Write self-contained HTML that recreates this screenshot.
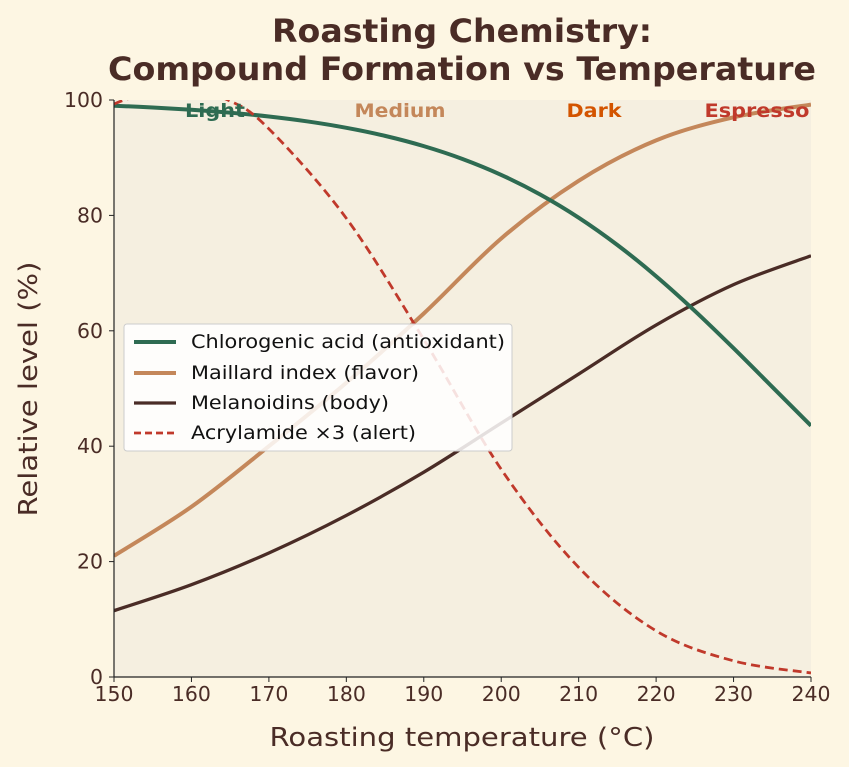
<!DOCTYPE html>
<html><head><meta charset="utf-8"><style>
body{margin:0;background:#fdf6e3;}
svg{display:block;font-family:"DejaVu Sans","Liberation Sans",sans-serif;}
</style></head><body>
<svg id="s" width="849" height="767" xmlns="http://www.w3.org/2000/svg">
<rect width="849" height="767" fill="#fdf6e3"/>
<text x="462" y="42" text-anchor="middle" font-size="32" font-weight="bold" fill="#4a2c26" textLength="380" lengthAdjust="spacingAndGlyphs">Roasting Chemistry:</text>
<text x="462" y="80" text-anchor="middle" font-size="32" font-weight="bold" fill="#4a2c26" textLength="708" lengthAdjust="spacingAndGlyphs">Compound Formation vs Temperature</text>
<rect x="114" y="100" width="697" height="577" fill="#f5efe0"/>
<defs><clipPath id="c"><rect x="114" y="100" width="697" height="577"/></clipPath></defs>
<g id="curves" clip-path="url(#c)"></g>
<text x="215" y="117" text-anchor="middle" font-size="19" font-weight="bold" fill="#2e6b52" textLength="60" lengthAdjust="spacingAndGlyphs">Light</text>
<text x="400" y="117" text-anchor="middle" font-size="19" font-weight="bold" fill="#c4875a" textLength="91" lengthAdjust="spacingAndGlyphs">Medium</text>
<text x="594" y="117" text-anchor="middle" font-size="19" font-weight="bold" fill="#d35400" textLength="55" lengthAdjust="spacingAndGlyphs">Dark</text>
<text x="757" y="117" text-anchor="middle" font-size="19" font-weight="bold" fill="#c0392b" textLength="105" lengthAdjust="spacingAndGlyphs">Espresso</text>
<line x1="114" y1="100" x2="114" y2="677" stroke="#222" stroke-width="1.2"/>
<line x1="114" y1="677" x2="811" y2="677" stroke="#222" stroke-width="1.2"/>
<g id="ticks" font-size="20" fill="#4a2c26"></g>
<text x="462" y="746" text-anchor="middle" font-size="26" fill="#4a2c26" textLength="385" lengthAdjust="spacingAndGlyphs">Roasting temperature (°C)</text>
<text transform="translate(37,389) rotate(-90)" text-anchor="middle" font-size="26" fill="#4a2c26" textLength="255" lengthAdjust="spacingAndGlyphs">Relative level (%)</text>
<rect x="124" y="324" width="388" height="127" rx="3" fill="#fff" fill-opacity="0.85" stroke="#ccc"/>
<line x1="134" y1="342" x2="176" y2="342" stroke="#2e6b52" stroke-width="4"/>
<text x="191" y="348" font-size="19" fill="#111" textLength="314" lengthAdjust="spacingAndGlyphs">Chlorogenic acid (antioxidant)</text>
<line x1="134" y1="373" x2="176" y2="373" stroke="#c4875a" stroke-width="4"/>
<text x="191" y="379" font-size="19" fill="#111" textLength="228" lengthAdjust="spacingAndGlyphs">Maillard index (flavor)</text>
<line x1="134" y1="403" x2="176" y2="403" stroke="#4a2c26" stroke-width="3.3"/>
<text x="191" y="409" font-size="19" fill="#111" textLength="198" lengthAdjust="spacingAndGlyphs">Melanoidins (body)</text>
<line x1="134" y1="433" x2="176" y2="433" stroke="#c0392b" stroke-width="2.8" stroke-dasharray="7,4"/>
<text x="191" y="439" font-size="19" fill="#111" textLength="225" lengthAdjust="spacingAndGlyphs">Acrylamide ×3 (alert)</text>
</svg>
<script>
const X=t=>114+(t-150)*697/90, Y=v=>677-v*5.77;
function path(pts){pts=pts.map(p=>[X(p[0]),Y(p[1])]);let d="M"+pts[0];
for(let i=0;i<pts.length-1;i++){const p0=pts[Math.max(i-1,0)],p1=pts[i],p2=pts[i+1],p3=pts[Math.min(i+2,pts.length-1)];
const c1=[p1[0]+(p2[0]-p0[0])/6,p1[1]+(p2[1]-p0[1])/6],c2=[p2[0]-(p3[0]-p1[0])/6,p2[1]-(p3[1]-p1[1])/6];
d+=" C"+c1+" "+c2+" "+p2;}return d;}
const chl=[];for(let t=150;t<=240;t+=5)chl.push([t,100-100/(1+Math.exp(-(t-235.2)/18.5))]);
const mai=[[150,21],[160,29.5],[170,40],[180,51],[190,63],[200,76],[210,86],[220,93],[230,97],[240,99.2]];
const mel=[[150,11.5],[160,16],[170,21.5],[180,28],[190,35.5],[200,44],[210,52.5],[220,61],[230,68],[240,73]];
const acr=[[150,99.3],[152,100.3],[158,102.5],[164.7,100],[170,95],[180,79.5],[190,58.5],[200,36],[210,19],[220,8],[230,2.8],[240,0.7]];
let g=document.getElementById("curves"),h="";
h+=`<path d="${path(mel)}" fill="none" stroke="#4a2c26" stroke-width="3.3"/>`;
h+=`<path d="${path(mai)}" fill="none" stroke="#c4875a" stroke-width="4"/>`;
h+=`<path d="${path(chl)}" fill="none" stroke="#2e6b52" stroke-width="4"/>`;
h+=`<path d="${path(acr)}" fill="none" stroke="#c0392b" stroke-width="2.8" stroke-dasharray="9,5"/>`;
g.innerHTML=h;
let tk="";for(let t=150;t<=240;t+=10){const x=X(t);tk+=`<line x1="${x}" y1="677" x2="${x}" y2="682" stroke="#222"/><text x="${x}" y="701" text-anchor="middle" textLength="39" lengthAdjust="spacingAndGlyphs">${t}</text>`;}
for(let v=0;v<=100;v+=20){const y=Y(v);const w=v==100?39:(v==0?13:26);tk+=`<line x1="109" y1="${y}" x2="114" y2="${y}" stroke="#222"/><text x="103" y="${y+7}" text-anchor="end" textLength="${w}" lengthAdjust="spacingAndGlyphs">${v}</text>`;}
document.getElementById("ticks").innerHTML=tk;
</script>
</body></html>
